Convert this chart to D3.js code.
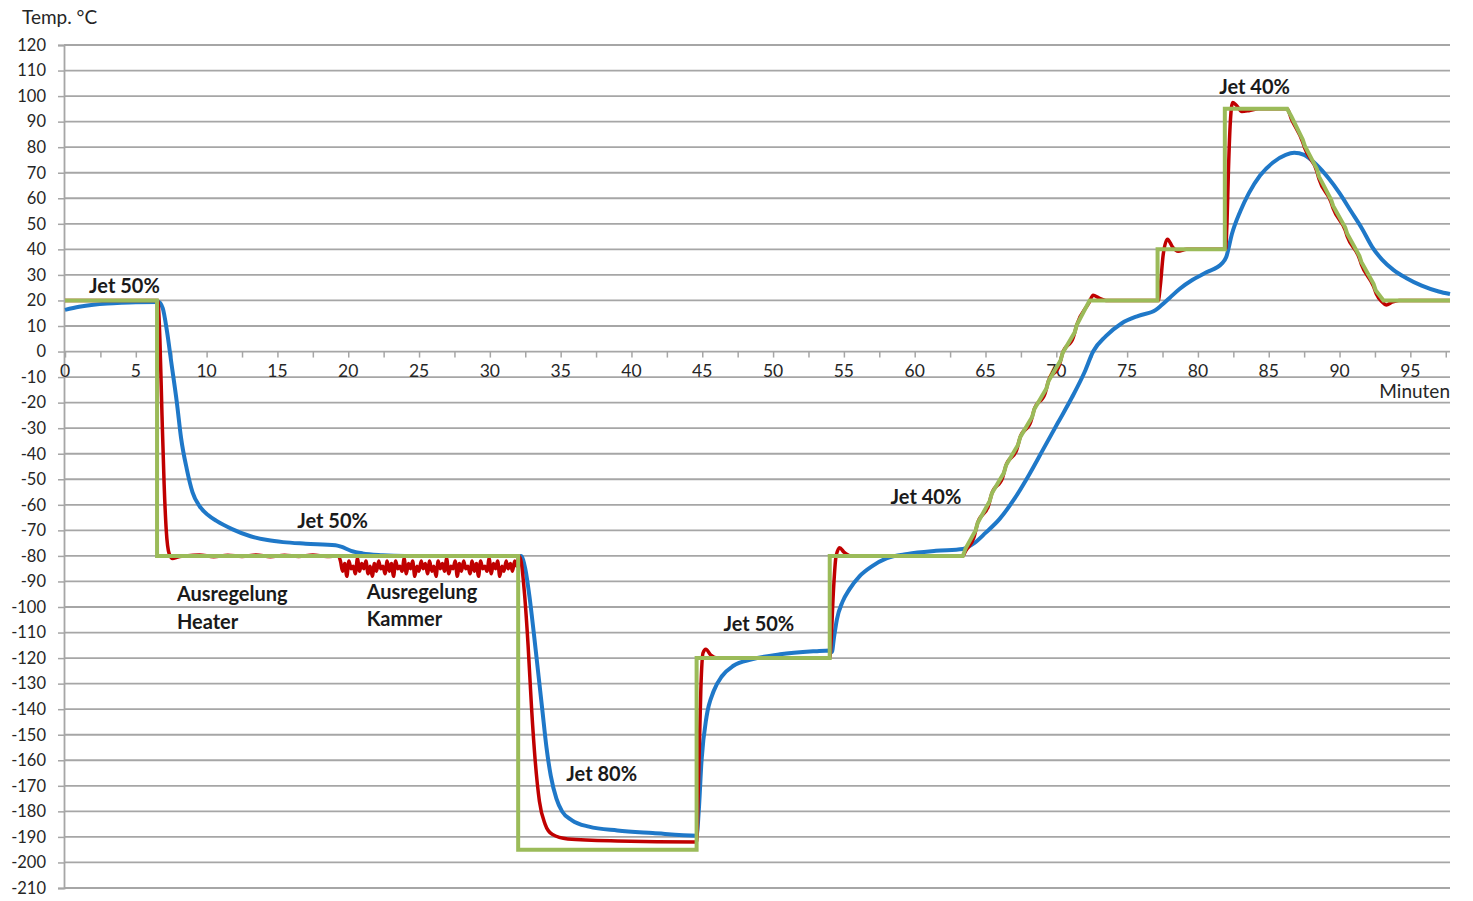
<!DOCTYPE html>
<html><head><meta charset="utf-8">
<script src="https://cdn.jsdelivr.net/npm/d3@7"></script>
<style>body{margin:0;background:#fff;} svg{display:block;} text{font-family:Lato,"Open Sans",sans-serif;}</style>
</head><body><svg id="c" width="1473" height="901"></svg>
<script>
// ---- data ----
const yTicks = d3.range(-210, 121, 10);
const xTickLabels = [0,5,10,15,20,25,30,35,40,45,50,55,60,65,70,75,80,85,90,95];
const xMinorTicks = d3.range(0, 97.6, 2.5);

// setpoint (green)
const greenSeries = [[0,20],[6.5,20],[6.5,-80],[32,-80],[32,-195],[44.6,-195],[44.6,-120],[54,-120],[54,-80],[63.4,-80],
 [63.6,-77],[64.3,-70],[64.45,-67],[65.3,-58.5],[65.45,-55.5],[66.3,-47.5],[66.45,-44.5],[67.3,-36.5],[67.45,-33.5],[68.3,-25.5],[68.45,-22.5],
 [69.3,-14.5],[69.45,-11.5],[70.3,-3.5],[70.45,-0.5],[71.3,7.5],[71.45,10.5],[72.35,20],[77.15,20],[77.15,40],[81.9,40],[81.9,95],[86.3,95],
 [86.6,92],[87.4,83],[87.55,80.5],[88.4,71.5],[88.55,68.5],[89.4,59.5],[89.55,57],[90.4,48.5],[90.55,46],[91.4,37.5],[91.55,35],[92.4,26.5],[92.55,24],[93.1,20],[97.8,20]];

// controller temperature (red)
const redStart = [[0,20],[6.55,20],[6.7,5],[6.85,-25],[7.0,-52],[7.15,-70],[7.35,-79],[7.6,-81],[7.9,-80.5],[8.5,-80],
 [9.5,-79.6],[10.5,-80.3],[11.5,-79.7],[12.5,-80.2],[13.5,-79.6],[14.5,-80.3],[15.5,-79.7],[16.5,-80.2],[17.5,-79.6],[18.5,-80.2],[19.3,-80]];
const redBandStart = 19.45, redBandStep = 0.15;
const redBand = [-82,-86,-83,-88,-82,-85,-84,-87,-81,-86,-83,-85,-82,-87,-84,-88,-83,-86,-82,-85,
 -84,-87,-82,-86,-83,-88,-82,-85,-84,-86,-81,-87,-83,-85,-82,-88,-84,-86,-82,-85,
 -83,-87,-82,-86,-84,-88,-82,-85,-83,-86,-81,-87,-84,-85,-82,-88,-83,-86,-82,-85,
 -84,-87,-82,-86,-83,-88,-82,-85,-84,-86,-81,-87,-83,-85,-82,-88,-84,-86,-82,-85,
 -83,-86,-82,-84];
const redRest = [[32.05,-80],[32.2,-82],[32.45,-95],[32.7,-115],[32.95,-140],[33.2,-160],[33.5,-176],[33.9,-185],[34.4,-189],[35.5,-190.8],[39,-191.6],[44.6,-192],
 [44.75,-165],[44.9,-132],[45.05,-118],[45.25,-116.5],[45.6,-118.8],[46.1,-120],[54.0,-120],
 [54.1,-113],[54.25,-95],[54.45,-80],[54.7,-76.8],[55.0,-78.5],[55.5,-80],[63.4,-80],
 [63.6,-78],[64.2,-72.5],[64.45,-67],[65.2,-60.5],[65.45,-55.5],[66.2,-49.5],[66.45,-44.5],[67.2,-38.5],[67.45,-33.5],[68.2,-27.5],[68.45,-22.5],
 [69.2,-16.5],[69.45,-11.5],[70.2,-5.5],[70.45,-0.5],[71.2,5.5],[71.45,10.5],[72.3,19],[72.6,22],[73.0,21],[73.5,20],[77.2,20],
 [77.35,26],[77.55,38],[77.85,44],[78.2,41],[78.6,39.3],[79.2,40],[81.95,40],[82.05,50],[82.15,70],[82.27,88],[82.45,97.5],[82.7,96.5],
 [83.1,94],[83.6,94.3],[84.3,95],[86.3,95],[86.6,91],[87.4,82],[87.55,79.5],[88.4,70.5],[88.55,67.5],[89.4,58.5],[89.55,56],[90.4,47.5],[90.55,45],
 [91.4,36.5],[91.55,34],[92.4,25.5],[92.6,22.5],[93.0,19.5],[93.3,18.2],[93.7,19.3],[94.2,20],[97.8,20]];

// sample temperature (blue)
const blueSeries = [[0,16.3],[1,17.5],[2,18.3],[3,18.8],[4,19.1],[5,19.3],[6.6,19.4],[6.9,17],[7.2,8],[7.5,-4],[7.9,-20],[8.2,-34],
 [8.6,-46],[9.0,-55],[9.5,-60.5],[10.1,-64],[10.7,-66.3],[11.8,-69.5],[13.1,-72.3],[14.3,-73.8],[15.4,-74.6],[17,-75.2],[19.1,-75.8],
 [19.5,-76.4],[20.2,-78],[21,-79],[22.4,-79.7],[24,-80],[32.2,-80],[32.5,-85],[32.8,-96],[33.1,-110],[33.4,-125],[33.7,-140],
 [34.0,-155],[34.3,-166],[34.7,-175],[35.1,-180],[35.8,-183.5],[37,-186],[39,-187.5],[41.5,-188.5],[44.6,-189.5],[44.75,-180],
 [44.95,-160],[45.3,-143],[45.8,-133],[46.4,-127],[47.2,-123],[48.5,-120.5],[50.5,-118.5],[53,-117.3],[54.0,-117],[54.15,-117.6],
 [54.3,-112],[54.5,-105],[54.9,-98],[55.4,-93],[56.1,-88],[57,-84],[58,-81],[59.5,-79.2],[61.5,-78],[63.4,-77.3],[64.2,-75],
 [65,-71],[66,-65.5],[67,-58],[68.1,-48],[69.1,-38],[70.1,-28],[71.1,-18],[72,-8],[72.6,0],[73.5,6],[74.6,11],[75.8,14],[77,16.2],
 [77.4,18],[78,21],[78.7,24.5],[79.6,28],[80.6,31],[81.7,34.5],[82.0,37],[82.4,46],[83,55],[83.6,62],[84.4,69],[85.3,74],[86.2,77],
 [86.8,77.8],[87.5,77],[88.3,73.5],[89.2,68],[90,62],[90.8,55],[91.6,48],[92.3,41],[93,36],[93.8,32],[94.7,28.8],[95.8,25.8],[97,23.5],[97.8,22.5]];

const annotations = [
 {t:"Jet 50%", x:1.7, y:23},
 {t:"Jet 50%", x:16.4, y:-69},
 {t:"Ausregelung", x:7.9, y:-97.5},
 {t:"Heater", x:7.9, y:-108.5},
 {t:"Ausregelung", x:21.3, y:-97},
 {t:"Kammer", x:21.3, y:-107.5},
 {t:"Jet 80%", x:35.4, y:-168},
 {t:"Jet 50%", x:46.5, y:-109.5},
 {t:"Jet 40%", x:58.3, y:-59.5},
 {t:"Jet 40%", x:81.5, y:101}
];

// ---- drawing ----
const svg = d3.select("#c");
const x = d3.scaleLinear().domain([0, 97.8]).range([65, 1450]);
const y = d3.scaleLinear().domain([-210, 120]).range([888, 45]);
const grid = "#a6a6a6";

// gridlines
svg.append("g").selectAll("line").data(yTicks).join("line")
  .attr("x1", 64).attr("x2", 1450).attr("y1", d=>y(d)).attr("y2", d=>y(d))
  .attr("stroke", grid).attr("stroke-width", 1.8);

// y axis
const yAxis = d3.axisLeft(y).tickValues(yTicks).tickSize(6).tickPadding(12).tickFormat(d => String(d));
const ga = svg.append("g").attr("transform","translate(64,0)").call(yAxis);
ga.select(".domain").attr("stroke", grid).attr("stroke-width", 1.8);
ga.selectAll(".tick line").attr("stroke", grid).attr("stroke-width", 1.5);
ga.selectAll(".tick text").attr("font-size", 16.5).attr("fill", "#262626").attr("font-family","Lato,sans-serif");

// x axis along 0
const xAxis = d3.axisBottom(x).tickValues(xMinorTicks).tickSize(6).tickFormat("");
const gx = svg.append("g").attr("transform", `translate(0,${y(0)})`).call(xAxis);
gx.select(".domain").remove();
gx.selectAll(".tick line").attr("stroke", grid).attr("stroke-width", 1.5);
svg.append("g").selectAll("text").data(xTickLabels).join("text")
  .attr("x", d=>x(d)).attr("y", y(0)+25).attr("text-anchor","middle")
  .attr("font-size", 17.5).attr("fill","#262626").text(d=>d);

// series
const lineLin = d3.line().x(d=>x(d[0])).y(d=>y(d[1]));
const lineSmooth = d3.line().x(d=>x(d[0])).y(d=>y(d[1])).curve(d3.curveMonotoneX);
const redSeries = redStart.concat(redBand.map((v,i)=>[redBandStart + i*redBandStep, v]), redRest);

svg.append("path").datum(blueSeries).attr("d", lineSmooth).attr("fill","none").attr("stroke","#1f78c8").attr("stroke-width",4).attr("stroke-linejoin","round");
svg.append("path").datum(redSeries).attr("d", lineSmooth).attr("fill","none").attr("stroke","#c00000").attr("stroke-width",3.5).attr("stroke-linejoin","round");
svg.append("path").datum(greenSeries).attr("d", lineLin).attr("fill","none").attr("stroke","#9bbb59").attr("stroke-width",4).attr("stroke-linejoin","miter");

// annotations
svg.append("g").selectAll("text").data(annotations).join("text")
  .attr("x", d=>x(d.x)).attr("y", d=>y(d.y)).attr("font-size", 20).attr("font-weight","bold").attr("fill","#1a1a1a")
  .text(d=>d.t);

// axis titles
svg.append("text").attr("x", 22).attr("y", 24).attr("font-size", 19).attr("fill","#262626").text("Temp. °C");
svg.append("text").attr("x", 1450).attr("y", 398).attr("text-anchor","end").attr("font-size", 19).attr("fill","#262626").text("Minuten");
</script></body></html>
